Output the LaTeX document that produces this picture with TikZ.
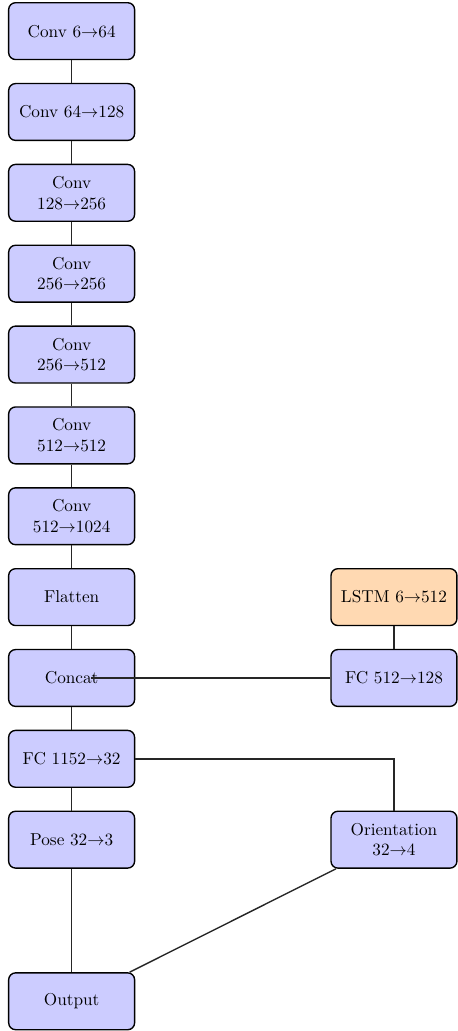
\documentclass[tikz,border=0pt]{standalone}
\usetikzlibrary{positioning,calc}
\tikzset{
  blk/.style={draw, thick, rounded corners, fill=blue!20, minimum width=2.57cm,
    minimum height=1.16cm, align=center, inner sep=2pt},
  rnnblk/.style={blk, fill=orange!30},
  lnk/.style={thick, black!85},
}
\begin{document}
\begin{tikzpicture}[node distance=0.462cm]
\useasboundingbox (-0.163,0.041) rectangle (9.164,-21.0);
% image branch
\node[blk, anchor=north west] (c1) at (0,0) {Conv 6$\to$64};
\node[blk, below=of c1] (c2) {Conv 64$\to$128};
\node[blk, below=of c2] (c3) {Conv\\128$\to$256};
\node[blk, below=of c3] (c4) {Conv\\256$\to$256};
\node[blk, below=of c4] (c5) {Conv\\256$\to$512};
\node[blk, below=of c5] (c6) {Conv\\512$\to$512};
\node[blk, below=of c6] (c7) {Conv\\512$\to$1024};
\node[blk, below=of c7] (flat) {Flatten};
\node[blk, below=of flat] (cat) {Concat};
\node[blk, below=of cat] (fc1) {FC 1152$\to$32};
\node[blk, below=of fc1] (pose) {Pose 32$\to$3};
\node[blk, below=2.11cm of pose] (out) {Output};
% imu branch
\node[rnnblk, right=3.98cm of flat] (lstm) {LSTM 6$\to$512};
\node[blk, below=of lstm] (fc2) {FC 512$\to$128};
\node[blk, right=3.98cm of pose] (orient) {Orientation\\32$\to$4};
\coordinate (catin) at ($(cat.center)+(0.39,0)$);
% links
\foreach \a/\b in {c1/c2,c2/c3,c3/c4,c4/c5,c5/c6,c6/c7,c7/flat,flat/cat,cat/fc1,fc1/pose,pose/out}
  \draw[lnk] (\a) -- (\b);
\draw[lnk] (lstm) -- (fc2);
\draw[lnk] (fc2) -- (catin);
\draw[lnk] (fc1) -| (orient);
\draw[lnk] (orient) -- (out);
\end{tikzpicture}
\end{document}
